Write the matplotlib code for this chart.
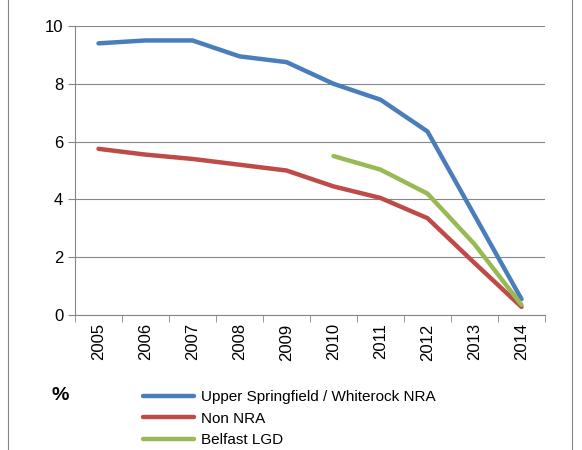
import matplotlib.pyplot as plt
import numpy as np

years = ["2005", "2006", "2007", "2008", "2009", "2010", "2011", "2012", "2013", "2014"]
upper = [9.4, 9.5, 9.5, 8.95, 8.75, 8.0, 7.45, 6.35, 3.45, 0.55]
non_nra = [5.75, 5.55, 5.4, 5.2, 5.0, 4.45, 4.05, 3.35, 1.8, 0.28]
belfast_years = ["2010", "2011", "2012", "2013", "2014"]
belfast = [5.5, 5.03, 4.2, 2.45, 0.35]

plt.rcParams['font.family'] = ['Liberation Sans', 'DejaVu Sans']
fig = plt.figure(figsize=(5.82, 4.5), dpi=100)
ax = fig.add_axes([75/582, 1-315/450, 470/582, 289/450])

x = np.arange(len(years))
xb = [years.index(y) for y in belfast_years]
ax.plot(x, upper, color='#4A7EBB', lw=3.2, label="Upper Springfield / Whiterock NRA", solid_capstyle='round')
ax.plot(x, non_nra, color='#BE4B48', lw=3.2, label="Non NRA", solid_capstyle='round')
ax.plot(xb, belfast, color='#98B954', lw=3.2, label="Belfast LGD", solid_capstyle='round')

ax.set_xlim(-0.5, len(years) - 0.5)
ax.set_ylim(0, 10)
ax.set_yticks(range(0, 11, 2))
ax.set_xticks(x)
ax.set_xticklabels(years, rotation=90, fontsize=12)
ax.set_xticks(np.arange(-0.5, len(years), 1), minor=True)
ax.tick_params(axis='x', which='major', length=0, pad=6)
ax.tick_params(axis='x', which='minor', length=5, color='#868686')
ax.tick_params(axis='y', labelsize=12, length=5, color='#868686')
ax.grid(axis='y', color='#868686', lw=0.8)
ax.set_axisbelow(True)
for s in ['top', 'right']:
    ax.spines[s].set_visible(False)
for s in ['left', 'bottom']:
    ax.spines[s].set_color('#868686')

fig.legend(loc='upper left', bbox_to_anchor=(137/582, 1-384/450), frameon=False,
           fontsize=11, handlelength=3.3, handletextpad=0.5, labelspacing=0.5, borderaxespad=0)
fig.text(52/582, 1-396/450, "%", fontsize=14, fontweight='bold', va='center')

fig.add_artist(plt.Line2D([8/582, 8/582], [0, 1], color='#868686', lw=0.8, transform=fig.transFigure))
fig.add_artist(plt.Line2D([572/582, 572/582], [0, 1], color='#868686', lw=0.8, transform=fig.transFigure))

fig.savefig("out.png", dpi=100)
